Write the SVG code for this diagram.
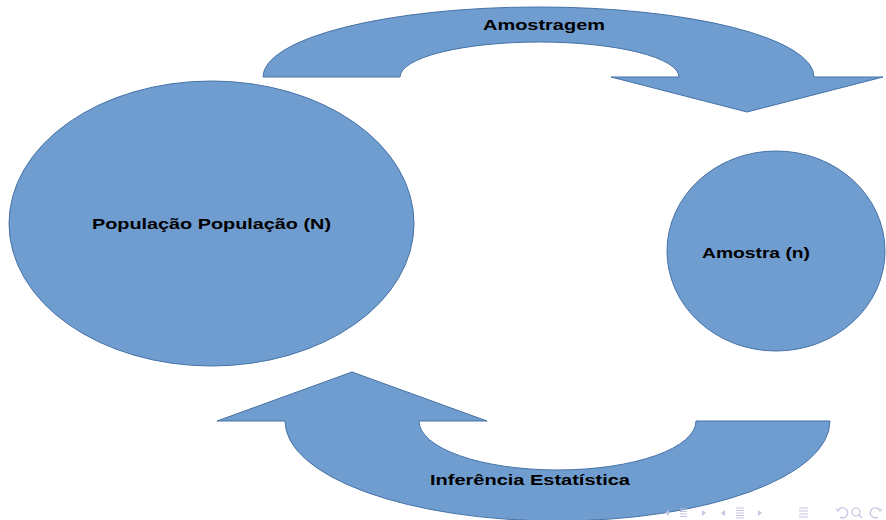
<svg xmlns="http://www.w3.org/2000/svg" width="886" height="520" viewBox="0 0 886 520">
<style>
.shape{fill:#709dcf;stroke:#4672a6;stroke-width:1}
.lbl{font-family:"Liberation Sans",Arial,sans-serif;font-weight:bold;font-size:15px;fill:#000}
.nav{fill:none;stroke:#c3c3e2;stroke-width:1.2}
.navf{fill:#c3c3e2}
</style>
<rect width="886" height="520" fill="#fff"/>
<g id="connectors">
<g id="arrow-amostragem">
<path class="shape" d="M263,77 A275.5,70 0 0 1 814,77 L883,77 L747,112 L611,77 L679,77 A139.5,35 0 0 0 400,77 Z"/>
<text class="lbl" x="483" y="30" textLength="122" lengthAdjust="spacingAndGlyphs">Amostragem</text>
</g>
<g id="arrow-inferencia">
<path class="shape" d="M285,421 A272.5,100 0 0 0 830,421 L696,421 A138.5,49 0 0 1 419,421 L487,421 L352,372 L217,421 Z"/>
<text class="lbl" x="430" y="485" textLength="200" lengthAdjust="spacingAndGlyphs">Inferência Estatística</text>
</g>
</g>
<g id="populacao">
<ellipse class="shape" cx="211.5" cy="223.5" rx="202.5" ry="142.5"/>
<text class="lbl" x="92" y="229" textLength="239" lengthAdjust="spacingAndGlyphs">População População (N)</text>
</g>
<g id="amostra">
<ellipse class="shape" cx="776" cy="251" rx="109" ry="100"/>
<text class="lbl" x="702" y="258" textLength="108" lengthAdjust="spacingAndGlyphs">Amostra (n)</text>
</g>
<g id="nav-symbols">
<polygon class="navf" points="669,510 665,513 669,516"/>
<path class="nav" d="M680,509h7M680,511.5h7M680,514h7M680,516.5h7"/>
<polygon class="navf" points="702,510 706,513 702,516"/>
<polygon class="navf" points="725,510 721,513 725,516"/>
<path class="nav" d="M736,508h8M736,510.5h8M736,513h8M736,515.5h8M736,518h8"/>
<polygon class="navf" points="758,510 762,513 758,516"/>
<path class="nav" d="M799,508h9M799,511h9M799,514h9M799,517h9"/>
<path class="nav" d="M838,511 A5,5 0 1 1 840,517 M836,509 l2,2 l2,-3"/>
<circle class="nav" cx="856" cy="512" r="4"/>
<path class="nav" d="M859,515 l3,3"/>
<path class="nav" d="M880,511 A5,5 0 1 0 878,517 M882,509 l-2,2 l-2,-3"/>
</g>
</svg>
